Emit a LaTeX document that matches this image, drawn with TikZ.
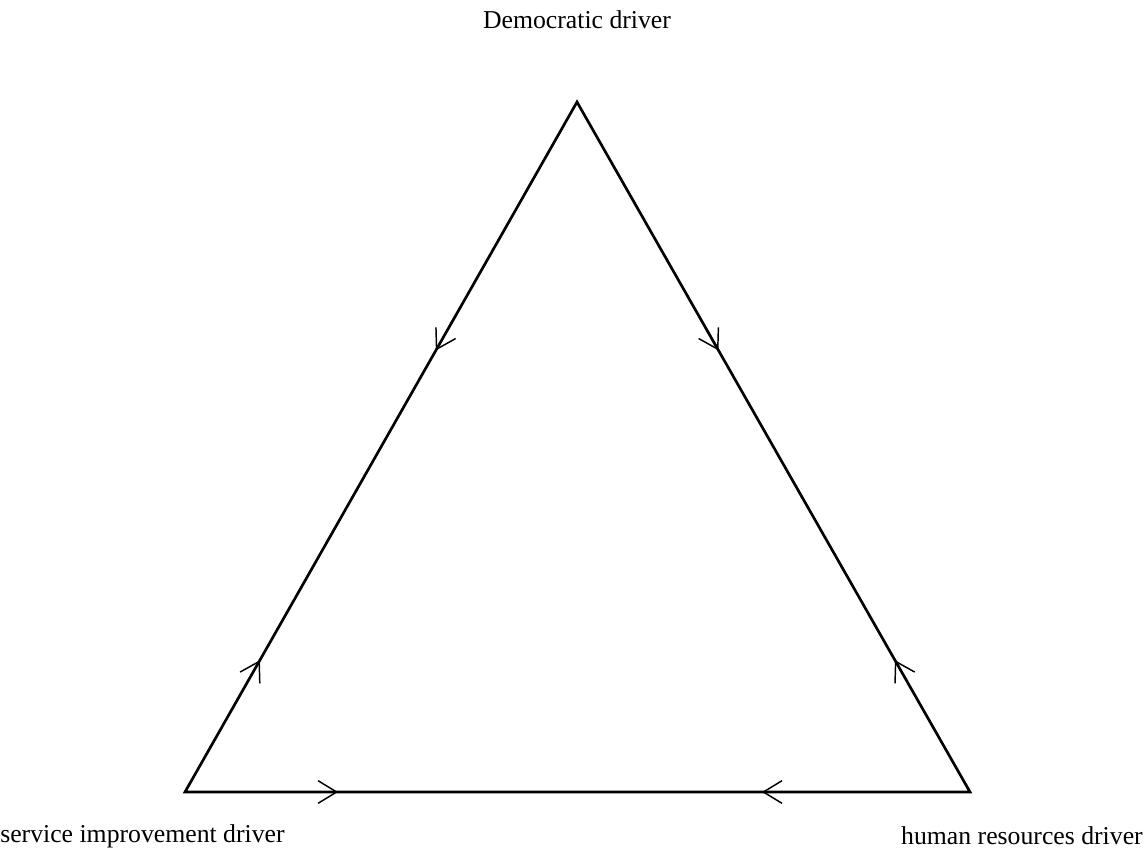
\documentclass[tikz,border=0pt]{standalone}
\usepackage{fontspec}
\setmainfont{Liberation Serif}
\usetikzlibrary{calc}
\usetikzlibrary{arrows.meta}
\tikzset{
	edge/.style={line width=2pt, line join=miter},
	flow/.style={line width=1.1pt, -{Straight Barb[length=14pt, width=17pt, line width=1.1pt]}},
	driver/.style={font=\fontsize{19.3}{22}\selectfont, inner sep=0pt}
}
\begin{document}
\begin{tikzpicture}[x=0.75pt, y=-0.75pt]
	% page: 1146px x 855px
	\useasboundingbox (0,0) rectangle (1146,855);
	% corners of the triangle
	\coordinate (dem) at (577,102);
	\coordinate (ser) at (185,792);
	\coordinate (hum) at (970,792);
	\draw[edge] (dem) -- (ser) -- (hum) -- cycle;
	% labels
	\node[driver] (demlabel) at (577,20) {Democratic driver};
	\node[driver, anchor=west] (serlabel) at (0,836) {service improvement driver};
	\node[driver, anchor=east] (humlabel) at (1143,836) {human resources driver};
	% arrows on the left side
	\draw[flow] ($(dem)!0.277!(ser)$) -- ($(dem)!0.36!(ser)$);
	\draw[flow] ($(dem)!0.886!(ser)$) -- ($(dem)!0.809!(ser)$);
	% arrows on the right side
	\draw[flow] ($(dem)!0.277!(hum)$) -- ($(dem)!0.36!(hum)$);
	\draw[flow] ($(dem)!0.886!(hum)$) -- ($(dem)!0.809!(hum)$);
	% arrows on the base
	\draw[flow] ($(ser)!0.1!(hum)$) -- ($(ser)!0.195!(hum)$);
	\draw[flow] ($(hum)!0.17!(ser)$) -- ($(hum)!0.265!(ser)$);
\end{tikzpicture}
\end{document}
